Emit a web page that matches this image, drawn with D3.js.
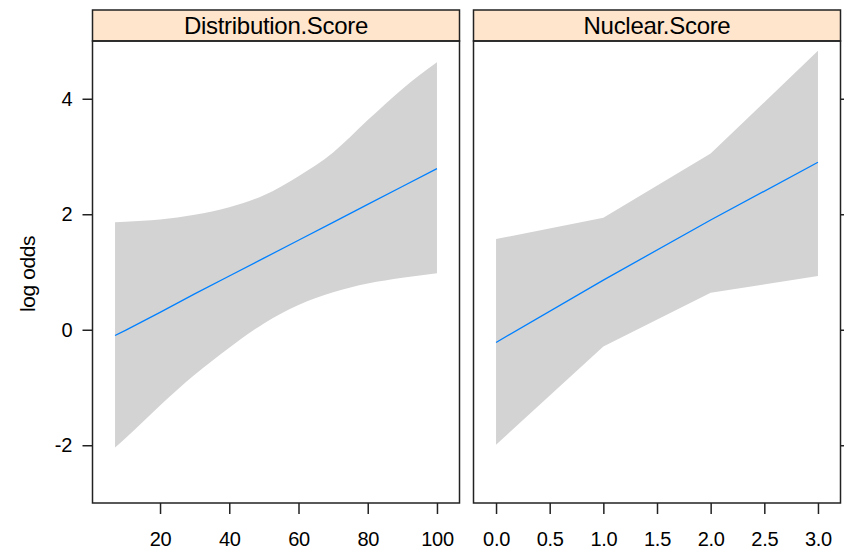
<!DOCTYPE html>
<html>
<head>
  <meta charset="utf-8">
  <title>Effect plot with D3.js</title>
  <script src="https://d3js.org/d3.v7.min.js"></script>
  <style>
    body { margin: 0; background: #fff; }
    text { font-family: "Liberation Sans", Arial, sans-serif; fill: #000; }
  </style>
</head>
<body>

<div id="chart"></div>

<script>
// panel titles
const panelNames = ["Distribution.Score", "Nuclear.Score"];

// Distribution.Score panel
const distX     = [7, 10, 20, 30, 40, 50, 60, 70, 80, 90, 100];
const distFit   = [-0.10, -0.01, 0.30, 0.62, 0.93, 1.24, 1.55, 1.86, 2.17, 2.48, 2.79];
const distUpper = [1.86, 1.87, 1.91, 1.99, 2.12, 2.33, 2.66, 3.07, 3.63, 4.17, 4.63];
const distLower = [-2.04, -1.88, -1.31, -0.78, -0.31, 0.11, 0.43, 0.65, 0.80, 0.90, 0.98];

// Nuclear.Score panel
const nucX     = [0, 1, 2, 3];
const nucFit   = [-0.22, 0.86, 1.90, 2.90];
const nucUpper = [1.57, 1.94, 3.05, 4.83];
const nucLower = [-1.99, -0.29, 0.64, 0.93];

// tick labels
const yTicks = [-2, 0, 2, 4];
const distTicks = [20, 40, 60, 80, 100];
const nucTicks = [0, 0.5, 1, 1.5, 2, 2.5, 3];

const width = 844;
const height = 552;

const svg = d3.select("#chart")
  .append("svg")
  .attr("width", width)
  .attr("height", height);

const stripTop = 10;
const panelTop = 41;
const panelBottom = 503;

const y = d3.scaleLinear().domain([-3, 5]).range([panelBottom, panelTop]);

const panels = [
  {
    name: panelNames[0],
    x: d3.scaleLinear().domain([0.49, 106.51]).range([92.5, 459.5]),
    xs: distX, fit: distFit, upper: distUpper, lower: distLower,
    ticks: distTicks, fmt: d3.format("d"), curve: d3.curveMonotoneX
  },
  {
    name: panelNames[1],
    x: d3.scaleLinear().domain([-0.21, 3.21]).range([473.5, 840.5]),
    xs: nucX, fit: nucFit, upper: nucUpper, lower: nucLower,
    ticks: nucTicks, fmt: d3.format(".1f"), curve: d3.curveLinear
  }
];

panels.forEach((p, i) => {
  const [x0, x1] = p.x.range();
  const rows = p.xs.map((v, j) => ({ x: v, fit: p.fit[j], lo: p.lower[j], hi: p.upper[j] }));

  // confidence band
  const area = d3.area()
    .curve(p.curve)
    .x(d => p.x(d.x))
    .y0(d => y(d.lo))
    .y1(d => y(d.hi));
  svg.append("path")
    .datum(rows)
    .attr("d", area)
    .attr("fill", "#d3d3d3");

  // fitted line
  const line = d3.line()
    .x(d => p.x(d.x))
    .y(d => y(d.fit));
  svg.append("path")
    .datum(rows)
    .attr("d", line)
    .attr("fill", "none")
    .attr("stroke", "#0080ff")
    .attr("stroke-width", 1.3);

  // strip
  svg.append("rect")
    .attr("x", x0).attr("y", stripTop)
    .attr("width", x1 - x0).attr("height", panelTop - stripTop)
    .attr("fill", "#ffe5cc")
    .attr("stroke", "#222").attr("stroke-width", 1.5);
  svg.append("text")
    .attr("x", (x0 + x1) / 2)
    .attr("y", 34)
    .attr("text-anchor", "middle")
    .style("font-size", "24px")
    .style("letter-spacing", "-0.3px")
    .text(p.name);

  // panel border
  svg.append("rect")
    .attr("x", x0).attr("y", panelTop)
    .attr("width", x1 - x0).attr("height", panelBottom - panelTop)
    .attr("fill", "none")
    .attr("stroke", "#222").attr("stroke-width", 1.5);

  // bottom axis
  const xAxis = svg.append("g")
    .attr("transform", `translate(0,${panelBottom})`)
    .call(d3.axisBottom(p.x).tickValues(p.ticks).tickFormat(p.fmt)
      .tickSize(11).tickPadding(18));
  xAxis.select(".domain").remove();
  xAxis.selectAll("line").attr("stroke", "#222").attr("stroke-width", 1.5);
  xAxis.selectAll("text")
    .style("font-size", "20px")
    .style("letter-spacing", "-0.3px")
    .style("font-family", "'Liberation Sans', Arial, sans-serif");

  // y axes: labels on the left panel, ticks only on the right of the last panel
  if (i === 0) {
    const yAxis = svg.append("g")
      .attr("transform", `translate(${x0},0)`)
      .call(d3.axisLeft(y).tickValues(yTicks).tickSize(10).tickPadding(10)
        .tickFormat(d => String(d)));
    yAxis.select(".domain").remove();
    yAxis.selectAll("line").attr("stroke", "#222").attr("stroke-width", 1.5);
    yAxis.selectAll("text")
      .style("font-size", "20px")
      .style("font-family", "'Liberation Sans', Arial, sans-serif");
  } else {
    const yAxisR = svg.append("g")
      .attr("transform", `translate(${x1},0)`)
      .call(d3.axisRight(y).tickValues(yTicks).tickSize(10).tickFormat(""));
    yAxisR.select(".domain").remove();
    yAxisR.selectAll("line").attr("stroke", "#222").attr("stroke-width", 1.5);
  }
});

// y axis title
svg.append("text")
  .attr("transform", `translate(35,${(panelTop + panelBottom) / 2 + 2}) rotate(-90)`)
  .attr("text-anchor", "middle")
  .style("font-size", "21px")
  .style("letter-spacing", "-0.4px")
  .text("log odds");
</script>

</body>
</html>
